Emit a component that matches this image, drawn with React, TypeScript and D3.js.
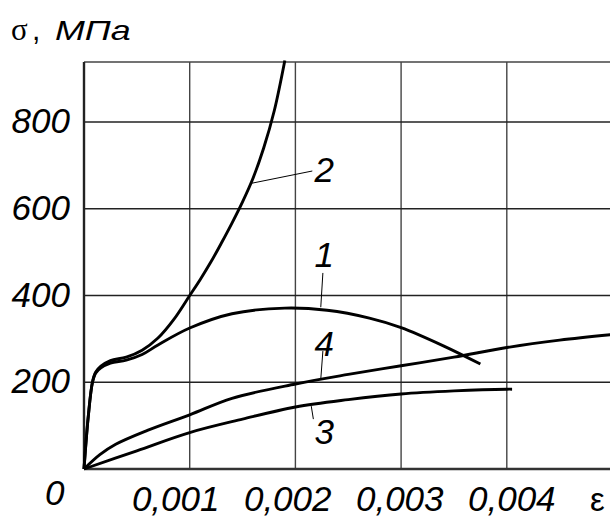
import React, { useEffect, useRef } from "react";
import * as d3 from "d3";

// strain (ε) vs stress (σ, MPa) curves 1..4
const curve1 = [
  [0, 0], [0.00004, 120], [0.00008, 200], [0.00011, 221], [0.00016, 233],
  [0.00025, 244], [0.0004, 251], [0.00055, 264], [0.0007, 286], [0.001, 325],
  [0.0014, 358], [0.0019, 371], [0.0023, 366], [0.0027, 348], [0.003, 326],
  [0.0034, 284], [0.00375, 242],
];
const curve2 = [
  [0, 0], [0.00004, 120], [0.00008, 200], [0.00011, 223], [0.00016, 237],
  [0.00025, 250], [0.0004, 258], [0.00055, 274], [0.0007, 302], [0.00085, 345],
  [0.001, 400], [0.0011, 437], [0.0012, 477], [0.0013, 521], [0.0014, 567],
  [0.0015, 616], [0.0016, 671], [0.0017, 740], [0.0018, 826], [0.0019, 942],
];
const curve3 = [
  [0, 0], [0.0005, 42], [0.001, 84], [0.0015, 115], [0.002, 143],
  [0.0025, 160], [0.003, 173], [0.0035, 180], [0.004, 184], [0.00405, 184],
];
const curve4 = [
  [0, 0], [0.00015, 33], [0.0003, 57], [0.0006, 89], [0.001, 125], [0.0014, 163],
  [0.002, 196], [0.0025, 218], [0.003, 238], [0.0035, 258], [0.004, 280],
  [0.0045, 297], [0.005, 310],
];
const curves = [curve1, curve2, curve3, curve4];

// curve labels: text, leader start, leader end, text anchor point
const labelNames = ["1", "2", "3", "4"];
const leaderFrom = [[0.00224, 373], [0.00159, 659], [0.00215, 145], [0.00224, 207]];
const leaderTo = [[0.00226, 452], [0.00216, 687], [0.00217, 115], [0.00226, 272]];
const labelAt = [[0.0022, 465], [0.0022, 661], [0.0022, 58], [0.0022, 260]];

const xTicks = [0.001, 0.002, 0.003, 0.004];
const xTickLabels = ["0,001", "0,002", "0,003", "0,004"];
const yTicks = [200, 400, 600, 800];
const yTickLabels = ["200", "400", "600", "800"];

const W = 610;
const H = 517;

export default function App() {
  const ref = useRef<SVGSVGElement>(null);

  useEffect(() => {
    const svg = d3.select(ref.current).html("");
    const x = d3.scaleLinear().domain([0, 0.005]).range([84, 612.5]);
    const y = d3.scaleLinear().domain([0, 800]).range([469, 122]);
    const top = 62;
    const font = "Liberation Sans, Arial, sans-serif";
    const fs = 35;

    // grid
    svg.selectAll(".vg").data(xTicks).join("line")
      .attr("x1", (d) => x(d)).attr("x2", (d) => x(d))
      .attr("y1", top).attr("y2", y(0))
      .attr("stroke", "#444").attr("stroke-width", 1.4);
    svg.selectAll(".hg").data(yTicks).join("line")
      .attr("x1", x(0)).attr("x2", W)
      .attr("y1", (d) => y(d)).attr("y2", (d) => y(d))
      .attr("stroke", "#222").attr("stroke-width", 1.4);
    // frame
    svg.append("line").attr("x1", x(0)).attr("x2", W).attr("y1", top).attr("y2", top)
      .attr("stroke", "#444").attr("stroke-width", 1.6);
    svg.append("line").attr("x1", x(0)).attr("x2", x(0)).attr("y1", top).attr("y2", y(0))
      .attr("stroke", "#222").attr("stroke-width", 2.4);
    svg.append("line").attr("x1", x(0)).attr("x2", W).attr("y1", y(0)).attr("y2", y(0))
      .attr("stroke", "#333").attr("stroke-width", 2.4);

    // curves
    const line = d3.line<number[]>()
      .x((d) => x(d[0])).y((d) => y(d[1]))
      .curve(d3.curveCatmullRom.alpha(0.5));
    svg.selectAll(".curve").data(curves).join("path")
      .attr("d", (d) => line(d))
      .attr("fill", "none").attr("stroke", "#000").attr("stroke-width", 2.9)
      .attr("stroke-linejoin", "round");

    // leaders + labels
    svg.selectAll(".leader").data(labelNames).join("line")
      .attr("x1", (_, i) => x(leaderFrom[i][0])).attr("y1", (_, i) => y(leaderFrom[i][1]))
      .attr("x2", (_, i) => x(leaderTo[i][0])).attr("y2", (_, i) => y(leaderTo[i][1]))
      .attr("stroke", "#000").attr("stroke-width", 1);
    svg.selectAll(".clabel").data(labelNames).join("text")
      .attr("x", (_, i) => x(labelAt[i][0]) - 2).attr("y", (_, i) => y(labelAt[i][1]))
      .attr("font-family", font).attr("font-style", "italic").attr("font-size", fs)
      .text((d) => d);

    // y tick labels
    svg.selectAll(".ytl").data(yTicks).join("text")
      .attr("x", 70).attr("y", (d) => y(d) + 11)
      .attr("text-anchor", "end")
      .attr("font-family", font).attr("font-style", "italic").attr("font-size", fs)
      .text((_, i) => yTickLabels[i]);

    // x tick labels (set slightly off the gridlines, as in the original)
    const xl = d3.scaleLinear().domain([0.001, 0.004]).range([x(0.001) - 14, x(0.004) + 5]);
    svg.selectAll(".xtl").data(xTicks).join("text")
      .attr("x", (d) => xl(d)).attr("y", 511)
      .attr("text-anchor", "middle")
      .attr("font-family", font).attr("font-style", "italic").attr("font-size", fs)
      .text((_, i) => xTickLabels[i]);

    svg.append("text").attr("x", 45).attr("y", 505)
      .attr("font-family", font).attr("font-style", "italic").attr("font-size", fs)
      .text("0");

    svg.append("text").attr("x", 590).attr("y", 511)
      .attr("font-family", font).attr("font-size", 33)
      .text("ε");

    // axis title
    svg.append("text").attr("x", 11).attr("y", 40).attr("font-size", 31)
      .attr("font-family", "Liberation Serif, Times New Roman, serif").text("σ");
    svg.append("text").attr("x", 32).attr("y", 40).attr("font-size", 30)
      .attr("font-family", font).text(",");
    svg.append("text").attr("transform", "translate(55,40) scale(1.28,1)")
      .attr("font-size", 28)
      .attr("font-family", font).attr("font-style", "italic")
      .text("МПа");
  }, []);

  return (
    <svg
      ref={ref}
      width={W}
      height={H}
      style={{ position: "absolute", left: 0, top: 0, background: "#fff" }}
    />
  );
}
